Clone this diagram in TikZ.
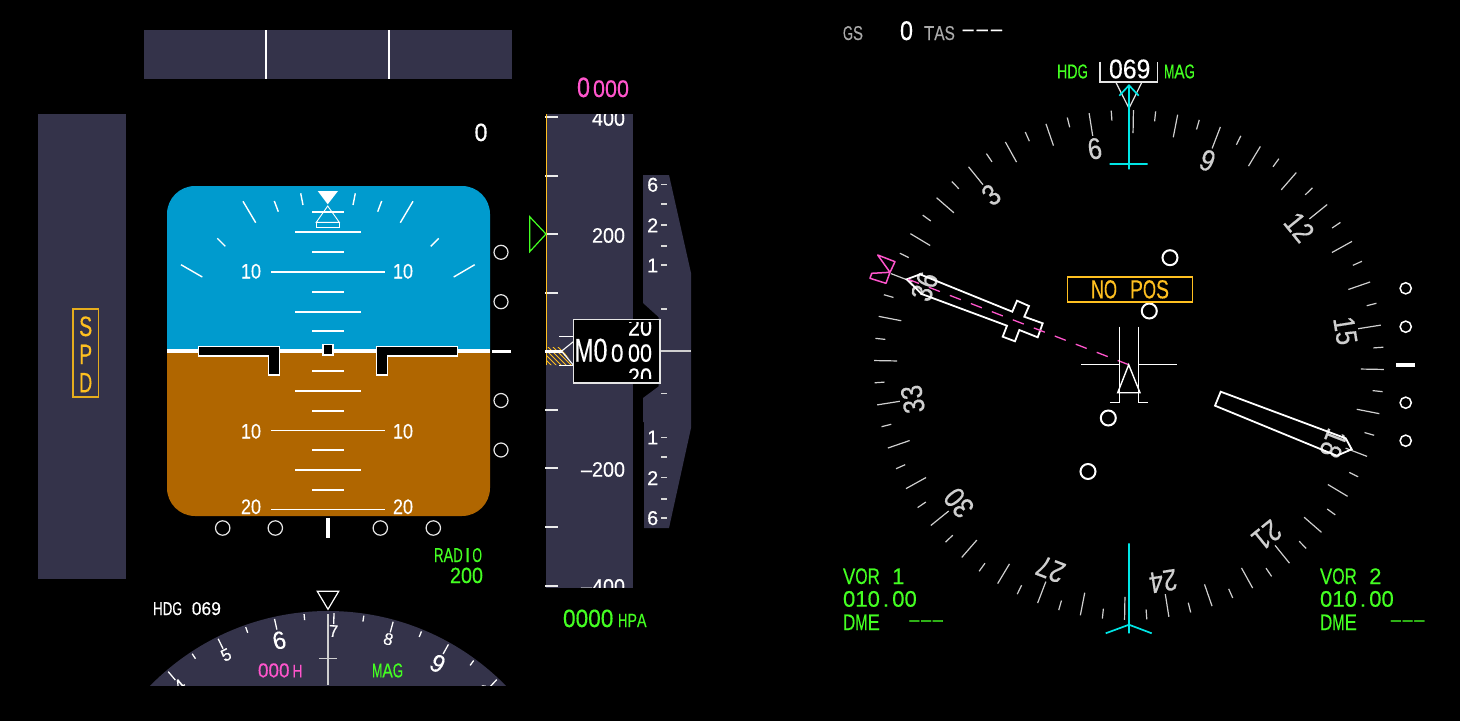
\documentclass[tikz,border=0pt]{standalone}
\usepackage{fontspec}
\usepackage{graphicx}
\setmainfont{Liberation Sans}[FakeBold=0.35]
\definecolor{tape}{HTML}{34334A}
\definecolor{sky}{HTML}{009BCE}
\definecolor{ground}{HTML}{B06600}
\definecolor{magent}{HTML}{FF55CC}
\definecolor{grn}{HTML}{44FF22}
\definecolor{ornge}{HTML}{FFC020}
\definecolor{cyn}{HTML}{00E6E6}
\definecolor{scalegray}{HTML}{CFCFCF}
\definecolor{dimgray}{HTML}{AAAAAA}
\newlength\mcell
\newsavebox\mcharbox
\def\monochar#1{\sbox\mcharbox{#1}\ifdim\wd\mcharbox>\mcell\makebox[\mcell][c]{\resizebox{\mcell}{\ht\mcharbox}{#1}}\else\makebox[\mcell][c]{\usebox\mcharbox}\fi}
\def\monoloop#1{\ifx#1\relax\else\monochar{#1}\expandafter\monoloop\fi}
\newcommand\mono[2]{\setlength\mcell{#1pt}\monoloop#2\relax}
\newcommand\mt[3]{{\fontsize{#1}{#1}\selectfont\mono{#2}{#3}}}
% same, for text held in a macro (loop variables)
\newcommand\mtx[3]{{\fontsize{#1}{#1}\selectfont\setlength\mcell{#2pt}\edef\mtmp{#3}\expandafter\monoloop\mtmp\relax}}
\tikzset{
  lab/.style={inner sep=0pt,outer sep=0pt},
  wl/.style={lab,anchor=base west},
  cl/.style={lab,anchor=base},
  el/.style={lab,anchor=base east},
  pitch/.style={draw=white,line width=1.9pt},
  bank/.style={draw=white,line width=1.4pt},
  ring/.style={draw=white!90!black,line width=1.2pt},
  ringb/.style={draw=white,line width=2pt},
  tick/.style={draw=scalegray,line width=1.2pt},
  vstick/.style={draw=white!85!black,line width=1.6pt},
  alttick/.style={draw=white!92!black,line width=1.6pt},
  ptr/.style={draw=white,line width=1.8pt,line join=miter},
  cy/.style={draw=cyn,line width=1.7pt}
}
\begin{document}
\begin{tikzpicture}[x=1pt,y=-1pt]
\useasboundingbox (0,0) rectangle (1460,721);
\fill[black] (0,0) rectangle (1460,721);
% ---------- top band
\fill[tape] (144,30) rectangle (512,79);
\draw[white,line width=1.6pt] (266,30) -- (266,79) (389,30) -- (389,79);
% ---------- speed tape
\fill[tape] (38,114) rectangle (126,579);
\draw[ornge!90!black,line width=1.3pt] (73,309) rectangle (98.5,397);
\node[cl,text=ornge] at (85.7,336) {\mt{28}{13}{S}};
\node[cl,text=ornge] at (85.7,364) {\mt{28}{13}{P}};
\node[cl,text=ornge] at (85.7,392.3) {\mt{28}{13}{D}};
\node[cl,text=white] at (481,141) {\mt{25}{13}{0}};
% ---------- attitude
\begin{scope}
\path[clip,rounded corners=28pt] (167,186) rectangle (490,516);
\fill[sky] (160,180) rectangle (500,352);
\fill[ground] (160,351) rectangle (500,520);
\end{scope}
\draw[white,line width=4pt] (167,351) -- (490,351);
\foreach \y/\w in {212.3/16,232.3/33,252/16,272/57,292/16,311.7/33,331.3/16,371/16,391/33,411/16,430.5/57,450/16,470/33,490/16,509.5/57}
  \draw[pitch] (328-\w,\y) -- (328+\w,\y);
\foreach \y/\b in {278.5/10,438.5/10,514/20}{
  \node[cl,text=white] at (251,\y) {\mtx{21}{10}{\b}};
  \node[cl,text=white] at (403,\y) {\mtx{21}{10}{\b}};
}
% bank scale
\draw[bank] (243,201.3) -- (255.7,222.7) (413,201.3) -- (400.3,222.7)
  (274.3,201) -- (278.3,211.7) (381.7,201) -- (377.7,211.7)
  (300.7,193.3) -- (303,205) (355.3,193.3) -- (353,205)
  (217.3,238.3) -- (225.3,246.3) (438.7,238.3) -- (430.7,246.3)
  (181,264.7) -- (202.3,277) (474.7,264.7) -- (453.7,277);
\fill[white] (317.7,191) -- (338,191) -- (327.7,204.3) -- cycle;
\draw[white,line width=.9pt] (327.7,206) -- (316.3,222.3) -- (339.3,222.3) -- cycle;
\draw[white,line width=.9pt] (316.3,222.3) rectangle (339.3,227.3);
% aircraft symbol
\draw[white,fill=black,line width=1.2pt] (198.7,346.3) -- (279.7,346.3) -- (279.7,375) -- (268.3,375) -- (268.3,356) -- (198.7,356) -- cycle;
\draw[white,fill=black,line width=1.2pt] (457.7,346.3) -- (376.3,346.3) -- (376.3,375) -- (387.7,375) -- (387.7,356) -- (457.7,356) -- cycle;
\draw[white,fill=black,line width=1.2pt] (323,344.3) rectangle (333,355);
% slip / deviation scales
\foreach \y in {252.3,301.7,400.5,450}
  \draw[ring] (501,\y) circle (7);
\fill[white] (492,349.8) rectangle (511,352.8);
\foreach \x in {222.7,275.3,380.3,433.3}
  \draw[ring] (\x,528) circle (7.2);
\fill[white] (325.8,518) rectangle (330,538);
\node[el,text=grn] at (482,562) {\mt{20}{9.6}{RADIO}};
\node[el,text=grn] at (483,583) {\mt{22}{11}{200}};
% ---------- heading strip
\node[wl,text=white] at (153,615) {\mt{18.6}{9.7}{HDG~069}};
\draw[white,line width=1.2pt] (317.3,591.3) -- (338.7,591.3) -- (328,609.3) -- cycle;
\begin{scope}
\clip (100,600) rectangle (560,685);
\fill[tape] (328,860) circle (249);
\foreach \h in {40,45,...,100}{
  \pgfmathsetmacro\a{(\h-69)*1.39}
  \pgfmathsetmacro\rin{ifthenelse(mod(\h,10)==0,236,241)}
  \draw[draw=white,line width=1.3pt] ({328+247*sin(\a)},{860-247*cos(\a)}) -- ({328+\rin*sin(\a)},{860-\rin*cos(\a)});
}
\foreach \h/\t/\r/\s/\c in {40/4/229/17/10,50/5/229/17/10,60/6/225/25/13,70/7/229/17/10,80/8/229/17/10,90/9/225/25/13,100/10/229/17/8}{
  \pgfmathsetmacro\a{(\h-69)*1.39}
  \node[lab,text=white,rotate=-\a] at ({328+\r*sin(\a)},{860-\r*cos(\a)}) {\mtx{\s}{\c}{\t}};
}
\draw[draw=scalegray,line width=1.6pt] (328,614) -- (328,685);
\draw[draw=scalegray,line width=1.2pt] (319,658.3) -- (337,658.3);
\node[wl,text=magent] at (258,677.3) {\mt{20}{10.5}{000}};
\node[wl,text=magent] at (292.5,677.3) {\mt{18}{10}{H}};
\node[wl,text=grn] at (372,677.3) {\mt{20}{10.4}{MAG}};
\end{scope}
% ---------- altitude
\node[wl,text=magent] at (577,97) {\mt{28}{13}{0}};
\node[wl,text=magent] at (593,97) {\mt{24}{12}{000}};
\fill[tape] (546,114) rectangle (633,587.7);
\begin{scope}
\clip (546,114) rectangle (633,587.7);
\node[el,text=white] at (625,125.7) {\mt{21}{11}{400}};
\node[el,text=white] at (625,242.7) {\mt{21}{11}{200}};
\node[el,text=white] at (625,476.7) {\mt{21}{11}{–200}};
\node[el,text=white] at (625,593.7) {\mt{21}{11}{–400}};
\end{scope}
\foreach \y in {117,175.7,234,292.7,409.7,468,526.7,585.7}
  \draw[alttick] (545,\y) -- (558,\y);
\begin{scope}
\clip (546.5,347) -- (561,347) -- (573.3,365) -- (546.5,365) -- cycle;
\foreach \d in {-25,-20,...,30}
  \draw[ornge,line width=1pt] (546+\d,345) -- (572+\d,371);
\end{scope}
\draw[ornge,line width=1.2pt] (546.5,114) -- (546.5,365);
\draw[grn,line width=1.2pt] (529.7,216.7) -- (546,234) -- (529.7,251.7) -- cycle;
\fill[white] (545,349.7) rectangle (561.7,352.5);
\draw[white,line width=1.1pt] (559.3,336.7) -- (573.3,336.7) (559.3,365.5) -- (573.3,365.5);
\draw[white,line width=1.1pt] (573.3,341.7) -- (561.5,351.2) -- (573.3,365);
% ---------- vertical speed
\fill[tape] (643,175) -- (669,175) -- (691,273) -- (691,428) -- (669,528) -- (644,528) -- (644,422) -- (643,422) -- (643,398) -- (658.5,386.5) -- (658.5,317) -- (643,303) -- cycle;
\foreach \y in {184.3,203.7,225,245.7,265,309,393.3,437.3,456.7,477.3,498.7,518}
  \draw[vstick] (661,\y) -- (667,\y);
\foreach \y/\t in {191.7/6,232.3/2,272.3/1,444.3/1,485/2,525/6}
  \node[cl,text=white] at (652.7,\y) {\mtx{20}{11}{\t}};
\draw[draw=scalegray,line width=1.5pt] (660,351) -- (691,351);
% readout box
\draw[white!90!black,fill=black,line width=1.2pt] (573.5,319.7) rectangle (660,383);
\node[wl,text=white] at (574.5,361.7) {\mt{33}{19}{M}\mt{33}{14}{0}};
\node[wl,text=white] at (611,361.7) {\mt{25}{12.5}{0}};
\node[wl,text=white] at (628,361.7) {\mt{25}{12}{00}};
\begin{scope}
\clip (625,322) rectangle (656,378.5);
\node[wl,text=white] at (628,335.7) {\mt{25}{12}{20}};
\node[wl,text=white] at (628,385.7) {\mt{25}{12}{20}};
\end{scope}
\node[wl,text=grn] at (563,627) {\mt{25}{12.6}{0000}};
\node[wl,text=grn] at (618,627) {\mt{19}{9.5}{HPA}};
% ---------- navigation display: header
\node[wl,text=dimgray] at (843,40) {\mt{20}{10}{GS}};
\node[cl,text=white] at (906.5,40) {\mt{27}{13}{0}};
\node[wl,text=dimgray] at (924,40) {\mt{20}{10.3}{TAS}};
\node[wl,text=white] at (961,35.5) {\mt{20}{14.2}{–––}};
\node[wl,text=grn] at (1057,78.3) {\mt{20}{10.3}{HDG}};
\node[wl,text=white] at (1109,78.3) {\mt{27}{13.8}{069}};
\node[wl,text=grn] at (1164,78.3) {\mt{20}{10.3}{MAG}};
\draw[white!90!black,line width=1.2pt] (1100,61.7) -- (1100,82) -- (1157.7,82) -- (1157.7,61.7);
\draw[white!90!black,line width=1.2pt] (1115.7,82) -- (1129,108.3) -- (1142,82);
% compass rose
\foreach \h in {0,5,...,355}{
  \pgfmathsetmacro\a{\h-69}
  \pgfmathsetmacro\rin{ifthenelse(mod(\h,10)==0,232,245)}
  \draw[tick] ({1129+255*sin(\a)},{365-255*cos(\a)}) -- ({1129+\rin*sin(\a)},{365-\rin*cos(\a)});
}
\foreach \h/\t in {30/3,60/6,90/9,120/12,150/15,180/18,210/21,240/24,270/27,300/30,330/33,360/36}{
  \pgfmathsetmacro\a{\h-69}
  \node[lab,text=scalegray,rotate=-\a] at ({1129+219*sin(\a)},{365-219*cos(\a)}) {\mtx{30}{14}{\t}};
}
% lubber / course
\draw[cy] (1129,85.3) -- (1129,169.3) (1119.3,95.7) -- (1129,85.3) -- (1138.7,95.7) (1109.7,164) -- (1147.7,164);
\draw[cy] (1129,543.3) -- (1129,633.3) (1105.7,633.3) -- (1129,624.7) -- (1151.7,633.3);
% VOR pointers
\draw[ptr] (906.7,279.3) -- (920,274.3) -- (1012.3,311.7) -- (1017,300.7) -- (1029,306) -- (1024.3,316.7) -- (1042.7,323.3) -- (1037.7,337.3) -- (1019.3,330) -- (1015,341.3) -- (1002.7,336.7) -- (1007,325.7) -- (921.7,294) -- cycle;
\draw[ptr] (1220.7,391.7) -- (1215,405.7) -- (1336.7,455.7) -- (1351.7,449.3) -- (1345.7,438.3) -- cycle;
\draw[magent,line width=1.3pt,dash pattern=on 11.8pt off 10.7pt] (1128.7,364.7) -- (908.3,279.3);
\draw[magent,line width=1.5pt,line join=round] (877.7,255) -- (895,261.7) -- (890,272.3) -- (886,283.3) -- (870,278.3) -- (871.7,273.3) -- (890,272.3) -- cycle;
% own aircraft
\draw[white,line width=1.3pt] (1119.3,326.7) -- (1119.3,402.7) -- (1110,402.7) (1138.3,326.7) -- (1138.3,402.7) -- (1147.7,402.7);
\draw[white,line width=1.3pt] (1081,364.7) -- (1119.3,364.7) (1138.3,364.7) -- (1176.7,364.7);
\draw[white,line width=1.4pt] (1128.7,364.7) -- (1117.7,392.7) -- (1140,392.7) -- cycle;
\foreach \x/\y in {1170/257.7,1149.3/311,1108.3/418,1088/471.5}
  \draw[ringb] (\x,\y) circle (7.5);
\draw[ornge,line width=1.6pt] (1067.5,276.7) rectangle (1192.3,301.7);
\node[wl,text=ornge] at (1091,298.3) {\mt{26}{13}{NO~POS}};
\foreach \y in {288.3,326.7,402.7,440.7}
  \draw[ringb,line width=1.5pt] (1405.7,\y) circle (5.6);
\fill[white] (1396,363) rectangle (1415,367);
% radio info
\node[wl,text=grn] at (843,584) {\mt{22.5}{12.3}{VOR~1}};
\node[wl,text=grn] at (843,606.7) {\mt{22.5}{12.3}{010.00}};
\node[wl,text=grn] at (843,630) {\mt{22.5}{12.3}{DME}};
\node[wl,text=grn] at (908.5,625.6) {\mt{18}{11.7}{–––}};
\node[wl,text=grn] at (1320,584) {\mt{22.5}{12.3}{VOR~2}};
\node[wl,text=grn] at (1320,606.7) {\mt{22.5}{12.3}{010.00}};
\node[wl,text=grn] at (1320,630) {\mt{22.5}{12.3}{DME}};
\node[wl,text=grn] at (1390,625.6) {\mt{18}{11.7}{–––}};
\end{tikzpicture}
\end{document}
